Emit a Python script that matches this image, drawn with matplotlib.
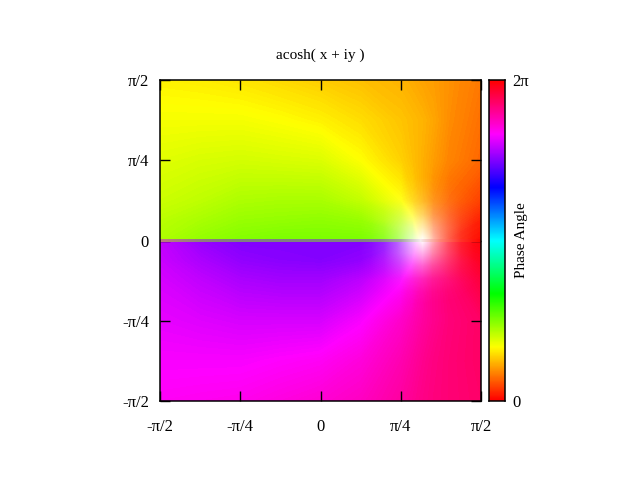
import numpy as np
import matplotlib
matplotlib.use('Agg')
import matplotlib.pyplot as plt
from matplotlib.colors import LinearSegmentedColormap

plt.rcParams['font.family'] = ['Liberation Serif', 'DejaVu Serif']

# positions in units of pi/2
x_nodes = [-1, -0.75, -0.5, -0.25, 0, 0.25, 0.5, 0.57, 0.637, 0.7, 0.8, 1]
y_upper = [0.004, 0.125, 0.25, 0.5, 0.75, 1]
y_lower = [-1, -0.75, -0.5, -0.25, -0.125, -0.004]

# phase in degrees, bottom row first
hue_upper = [
    [79, 85, 89, 91, 91, 91, 90, 88, 45, 10, 6, 2],
    [76, 80, 84, 85, 86, 84, 74, 62, 44, 24, 15, 6],
    [72, 75, 79, 80, 80, 74, 60, 50, 41, 32, 24, 15],
    [67, 69, 70, 69, 68, 60, 49, 45, 41, 37, 31, 24],
    [62, 62, 62, 60, 57, 52, 46, 44, 42, 39, 33, 26],
    [57, 56, 54, 51, 48, 45, 42, 40, 38, 37, 34, 28],
]
hue_lower = [
    [302, 303, 304, 307, 310, 314, 322, 325, 328, 330, 332, 335],
    [298, 298, 298, 300, 302, 308, 318, 322, 326, 329, 332, 336],
    [294, 292, 290, 290, 290, 298, 312, 317, 322, 326, 331, 336],
    [290, 285, 280, 278, 278, 284, 298, 308, 318, 326, 333, 345],
    [287, 280, 274, 272, 271, 274, 284, 297, 315, 332, 342, 352],
    [285, 275, 270, 270, 270, 270, 272, 280, 315, 350, 355, 358],
]

# how white the picture gets around the zero at x = 0.637, y = 0
white = [
    [0.00, 0.00, 0.00, 0.00, 0.00, 0.00, 0.00, 0.00, 0.00, 0.00, 0.00],
    [0.00, 0.00, 0.01, 0.02, 0.03, 0.04, 0.03, 0.02, 0.01, 0.00, 0.00],
    [0.00, 0.01, 0.03, 0.08, 0.12, 0.14, 0.10, 0.07, 0.03, 0.01, 0.00],
    [0.00, 0.02, 0.08, 0.20, 0.32, 0.38, 0.27, 0.17, 0.07, 0.02, 0.00],
    [0.00, 0.04, 0.13, 0.32, 0.56, 0.70, 0.48, 0.27, 0.11, 0.03, 0.00],
    [0.00, 0.05, 0.16, 0.38, 0.70, 1.00, 0.62, 0.32, 0.13, 0.04, 0.00],
    [0.00, 0.04, 0.14, 0.33, 0.56, 0.68, 0.48, 0.28, 0.12, 0.04, 0.00],
    [0.00, 0.03, 0.09, 0.21, 0.33, 0.38, 0.28, 0.18, 0.08, 0.03, 0.00],
    [0.00, 0.01, 0.04, 0.09, 0.14, 0.16, 0.12, 0.08, 0.03, 0.01, 0.00],
    [0.00, 0.00, 0.01, 0.03, 0.05, 0.06, 0.04, 0.03, 0.01, 0.00, 0.00],
    [0.00, 0.00, 0.00, 0.00, 0.00, 0.00, 0.00, 0.00, 0.00, 0.00, 0.00],
]

# the band along the cut, every 1/8 of pi/2 from -pi/2 to pi/2
band_rgb = [
    [190, 125, 125], [165, 125, 125], [145, 125, 125], [135, 125, 125], [128, 128, 128],
    [128, 128, 128], [128, 128, 128], [128, 128, 128], [128, 128, 128], [128, 128, 128],
    [128, 128, 128], [135, 135, 135], [165, 165, 160], [245, 235, 235], [255, 130, 115],
    [255, 50, 40], [255, 5, 0],
]

ticks = [-1, -0.5, 0, 0.5, 1]
x_labels = ['-π/2', '-π/4', '0', 'π/4', 'π/2']
y_labels = ['-π/2', '-π/4', '0', 'π/4', 'π/2']

hsv_pal = LinearSegmentedColormap.from_list(
    'phase', ['#ff0000', '#ffff00', '#00ff00', '#00ffff', '#0000ff', '#ff00ff', '#ff0000'], N=720)
levels = np.arange(0, 361, 1)

fig = plt.figure(figsize=(6.4, 4.8), dpi=100)
ax = fig.add_axes([160 / 640, 1 - 401 / 480, 321 / 640, 321 / 480])

ax.contourf(x_nodes, y_upper, hue_upper, levels=levels, cmap=hsv_pal, vmin=0, vmax=360, antialiased=False)
ax.contourf(x_nodes, y_lower, hue_lower, levels=levels, cmap=hsv_pal, vmin=0, vmax=360, antialiased=False)

# white glow
rgba = np.ones((len(white), len(white[0]), 4))
rgba[:, :, 3] = np.array(white)
ax.imshow(rgba, extent=[0.637 - 0.44, 0.637 + 0.44, -0.44, 0.44], origin='lower',
          interpolation='bilinear', aspect='auto', zorder=2)

band = (np.array(band_rgb) / 255.0).reshape(1, len(band_rgb), 3)
ax.imshow(band, extent=[-1.0625, 1.0625, -0.009, 0.009], origin='lower',
          interpolation='bilinear', aspect='auto', zorder=3)

ax.set_xlim(-1, 1)
ax.set_ylim(-1, 1)
ax.set_xticks(ticks)
ax.set_yticks(ticks)
ax.set_xticklabels(x_labels)
ax.set_yticklabels(y_labels)
ax.tick_params(direction='in', top=True, right=True, length=7, width=1, labelsize=12)
ax.tick_params(axis='x', pad=13)
ax.tick_params(axis='y', pad=8)
for s in ax.spines.values():
    s.set_linewidth(1.1)
    s.set_zorder(5)
ax.set_title('acosh( x + iy )', fontsize=11, pad=15)

cax = fig.add_axes([489 / 640, 1 - 401 / 480, 16 / 640, 321 / 480])
cax.imshow(np.linspace(0, 1, 256).reshape(-1, 1), cmap=hsv_pal, origin='lower',
           extent=[0, 1, 0, 2 * np.pi], aspect='auto')
cax.set_xticks([])
cax.yaxis.tick_right()
cax.set_yticks([0, 2 * np.pi])
cax.set_yticklabels(['0', '2π'])
cax.tick_params(length=0, labelsize=12, pad=5)
for s in cax.spines.values():
    s.set_linewidth(1.1)
fig.text(522 / 640, 1 - 240 / 480, 'Phase Angle', rotation=90, ha='center', va='center', fontsize=11)

fig.savefig('out.png', dpi=100)
